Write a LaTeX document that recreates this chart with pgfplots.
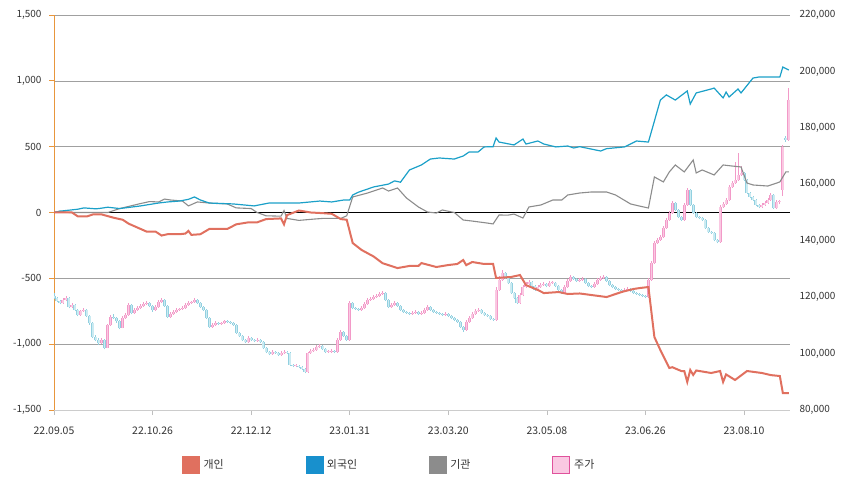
\documentclass[border=0pt]{standalone}
\usepackage{fontspec}
\setmainfont{Noto Sans CJK KR}
\usepackage{pgfplots}
\usepackage{pgfplotstable}
\pgfplotsset{compat=1.18}

\definecolor{cind}{HTML}{E0705F}
\definecolor{cfor}{HTML}{1BA0C8}
\definecolor{cins}{HTML}{8C8C8C}
\definecolor{cup}{HTML}{F29AC8}
\definecolor{cupl}{HTML}{FAC8E2}
\definecolor{cdn}{HTML}{92D0E0}
\definecolor{cdnl}{HTML}{CBEBF2}
\definecolor{cupb}{HTML}{E0529C}
\definecolor{caxis}{HTML}{E8963C}
\definecolor{cgrid}{HTML}{A0A0A0}
\definecolor{ctext}{HTML}{333333}

% daily candles: index, open, high, low, close
\pgfplotstableread{
i o h l c
0 120500 121300 119300 119700
1 119700 120200 118200 118600
2 118600 119000 117400 117900
3 117900 119600 117600 119000
4 119000 120400 118800 119700
5 119700 119900 116000 116500
6 116500 117800 116100 117200
7 117200 117500 115000 115400
8 115400 115800 113200 113700
9 113700 115600 113400 115100
10 115100 116200 114800 115400
11 115400 115700 112900 113300
12 113300 113600 110300 110800
13 110800 111200 105400 105900
14 105900 106500 104300 104800
15 104800 105600 103200 103700
16 103700 105400 103300 104800
17 104800 105200 101500 102000
18 102000 110600 101800 110100
19 110100 113600 109800 113000
20 113000 113900 112200 112600
21 112600 113000 111000 111500
22 111500 111800 108600 109100
23 109100 113200 108900 112600
24 112600 114300 112300 113700
25 113700 117800 113400 117200
26 117200 117600 113900 114400
27 114400 116000 114100 115400
28 115400 116800 115100 116100
29 116100 117400 115800 116900
30 116900 118300 116500 117600
31 117600 118700 117200 117900
32 117900 118200 116400 116900
33 116900 117200 114900 115400
34 115400 117100 115100 116500
35 116500 118900 116200 118300
36 118300 119800 118000 119000
37 119000 119300 116500 116900
38 116900 117200 112600 113000
39 113000 114600 112700 114000
40 114000 115300 113700 114700
41 114700 116000 114400 115400
42 115400 116300 115100 115800
43 115800 116700 115500 116100
44 116100 117800 115800 117200
45 117200 118500 116900 117900
46 117900 118800 117600 118300
47 118300 119700 118000 119000
48 119000 119300 117500 117900
49 117900 118200 116100 116500
50 116500 116800 115000 115400
51 115400 115700 112200 112600
52 112600 112900 109000 109400
53 109400 110700 109100 110100
54 110100 111400 109800 110800
55 110800 111100 110100 110500
56 110500 111300 110200 110800
57 110800 112000 110500 111500
58 111500 111800 110800 111200
59 111200 111500 110400 110800
60 110800 111100 109700 110100
61 110100 110400 106900 107300
62 107300 107600 105800 106200
63 106200 106500 104400 104800
64 104800 105100 103700 104100
65 104100 106100 103800 105500
66 105500 105800 104400 104800
67 104800 105100 104100 104500
68 104500 105400 104200 104800
69 104800 105100 103700 104100
70 104100 104400 101600 102000
71 102000 102300 100200 100600
72 100600 100900 99400 99800
73 99800 101200 99500 100600
74 100600 100900 99800 100200
75 100200 100500 99100 99500
76 99500 100800 99200 100200
77 100200 101200 99900 100600
78 100600 100900 99800 100200
79 100200 100500 95600 96000
80 96000 96300 95200 95600
81 95600 96200 95200 95600
82 95600 95900 94800 95200
83 95200 95500 94100 94500
84 94500 94800 93000 93500
85 93500 100700 93200 100200
86 100200 101500 99900 100900
87 100900 101900 100600 101300
88 101300 102900 101000 102300
89 102300 103300 102000 102700
90 102700 103000 101200 101600
91 101600 101900 100200 100600
92 100600 101200 100300 100600
93 100600 101500 100300 100900
94 100900 101200 100200 100600
95 100600 105400 100300 104800
96 104800 108200 104500 107600
97 107600 107900 105800 106200
98 106200 106500 104400 104800
99 104800 118500 104500 117900
100 117900 118200 115700 116100
101 116100 116600 115400 115800
102 115800 116100 115000 115400
103 115400 116700 115100 116100
104 116100 118200 115800 117600
105 117600 119600 117300 119000
106 119000 119900 118700 119300
107 119300 120600 119000 120000
108 120000 121000 119700 120400
109 120400 121700 120100 121100
110 121100 122200 120800 121500
111 121500 121800 118600 119000
112 119000 119300 116100 116500
113 116500 117800 116200 117200
114 117200 118500 116900 117900
115 117900 118200 116500 116900
116 116900 117200 115000 115400
117 115400 115700 114300 114700
118 114700 115000 114000 114400
119 114400 114700 113600 114000
120 114000 115000 113700 114400
121 114400 115300 114100 114700
122 114700 115000 113600 114000
123 114000 115000 113700 114400
124 114400 116000 114100 115400
125 115400 117100 115100 116500
126 116500 116800 115000 115400
127 115400 115700 114300 114700
128 114700 115000 114000 114400
129 114400 114700 113600 114000
130 114000 114300 113300 113700
131 113700 114600 113400 114000
132 114000 114300 112900 113300
133 113300 113600 112200 112600
134 112600 112900 111500 111900
135 111900 112200 110800 111200
136 111200 111500 109000 109400
137 109400 109700 107600 108400
138 108400 111800 108100 111200
139 111200 113200 110900 112600
140 112600 114600 112300 114000
141 114000 115700 113700 115100
142 115100 116000 114800 115400
143 115400 115700 114000 114400
144 114400 114700 113300 113700
145 113700 114000 112900 113300
146 113300 113600 111900 112300
147 112300 112600 111500 111900
148 111900 123500 111600 122500
149 122500 127500 122200 126100
150 126100 129600 125800 128600
151 128600 128900 126400 126800
152 126800 127100 124600 125000
153 125000 125300 121100 121500
154 121500 121800 119300 119700
155 119700 120000 117500 117900
156 117900 121400 117600 120800
157 120800 124200 120500 123600
158 123600 125300 123300 124700
159 124700 126000 124400 125400
160 125400 125700 123500 123900
161 123900 124200 122100 122500
162 122500 124200 122200 123600
163 123600 124900 123300 124300
164 124300 125300 124000 124700
165 124700 125000 123500 123900
166 123900 125600 123600 125000
167 125000 125800 124600 125000
168 125000 125300 123500 123900
169 123900 124200 122100 122500
170 122500 122800 121100 121500
171 121500 124200 121200 123600
172 123600 126300 123300 125700
173 125700 127700 125400 127100
174 127100 127400 126000 126400
175 126400 126700 125300 125700
176 125700 126700 125400 126100
177 126100 127000 125800 126400
178 126400 126700 124600 125000
179 125000 125300 123500 123900
180 123900 124200 123200 123600
181 123600 125300 123300 124700
182 124700 126700 124400 126100
183 126100 127400 125800 126800
184 126800 127700 126500 127100
185 127100 127400 125300 125700
186 125700 126000 123900 124300
187 124300 124600 123200 123600
188 123600 123900 122500 122900
189 122900 123200 122100 122500
190 122500 122800 121800 122200
191 122200 123100 121900 122500
192 122500 123500 122200 122900
193 122900 123200 121800 122200
194 122200 122500 121100 121500
195 121500 121800 120800 121200
196 121200 121500 120400 120800
197 120800 121100 120000 120400
198 120400 120700 119600 120000
199 120000 126700 119700 126100
200 126100 132700 125800 132100
201 132100 139800 131800 139200
202 139200 140800 138900 140200
203 140200 141900 139900 141300
204 141300 145100 141000 144500
205 144500 147900 144200 147300
206 147300 150400 147000 149800
207 149800 154000 149500 153400
208 153400 153700 150500 150900
209 150900 151200 148000 148400
210 148400 148700 146900 147300
211 147300 153300 147000 152700
212 152700 158600 152400 158000
213 158000 158300 152300 152700
214 152700 153000 149400 149800
215 149800 150100 148000 148400
216 148400 148700 147600 148000
217 148000 148300 146900 147300
218 147300 147600 144100 144500
219 144500 144800 142700 143100
220 143100 143400 142300 142700
221 142700 143000 139800 140200
222 140200 140500 139100 139500
223 139500 152500 139200 151900
224 151900 153600 151600 153000
225 153000 155000 152700 154400
226 154400 159600 154100 159000
227 159000 161100 158700 160500
228 160500 168000 160200 161500
229 161500 171000 161200 163300
230 163300 166500 163000 164000
231 164000 164300 161100 161500
232 161500 161800 156500 156900
233 156900 157200 155100 155500
234 155500 155800 154000 154400
235 154400 154700 152300 152700
236 152700 153000 151500 151900
237 151900 153300 151600 152700
238 152700 154000 152400 153400
239 153400 155000 153100 154400
240 154400 156800 154100 156200
241 156200 156500 151200 151600
242 151600 154300 151300 153700
243 153700 154600 152900 154200
244 158000 173800 156000 173200
245 176400 177000 175000 175700
246 175700 194100 175400 189900
}\candles

% 개인
\pgfplotstableread{
i v
0 0
6 0
8 -30
11 -30
13 -15
16 -15
20 -40
23 -55
25 -85
31 -145
34 -145
36 -175
38 -165
42 -165
44 -160
45 -140
46 -170
49 -165
52 -125
58 -125
61 -90
65 -75
68 -75
71 -50
76 -45
77 -90
78 -20
82 15
86 0
90 -5
93 -10
96 -50
98 -55
100 -232
103 -285
107 -334
110 -385
115 -422
119 -406
122 -406
123 -384
128 -414
132 -399
135 -391
137 -361
138 -400
140 -376
144 -391
147 -391
148 -497
153 -490
156 -475
158 -551
162 -589
164 -612
169 -604
172 -619
176 -615
185 -642
190 -604
194 -581
196 -574
199 -566
201 -946
203 -1045
206 -1181
207 -1175
210 -1204
211 -1204
212 -1287
213 -1196
214 -1234
215 -1200
220 -1219
223 -1204
224 -1287
225 -1230
228 -1272
232 -1204
237 -1219
240 -1235
243 -1242
244 -1371
246 -1371
}\gaein

% 외국인
\pgfplotstableread{
i v
0 0
2 10
8 25
10 35
14 28
15 30
18 40
22 30
29 50
35 72
38 80
42 87
45 100
47 118
49 95
52 72
60 65
67 50
72 72
82 72
89 87
93 80
97 95
99 95
100 133
102 155
107 194
112 216
114 240
116 230
119 323
123 361
126 406
129 414
134 406
137 429
139 460
142 460
144 498
147 500
148 566
149 535
154 513
157 558
158 520
162 543
164 520
168 498
172 505
174 490
176 500
183 467
185 485
191 498
193 520
195 543
199 535
203 854
205 893
208 854
212 923
213 824
215 908
220 938
221 945
224 870
225 915
226 877
229 938
230 908
234 1021
236 1029
239 1029
243 1029
244 1105
246 1082
}\oegugin

% 기관
\pgfplotstableread{
i v
0 0
2 10
5 0
15 0
18 0
22 30
29 68
32 83
35 80
37 102
39 95
43 87
45 50
48 80
53 70
58 65
61 35
66 30
68 0
71 -25
76 -28
77 15
78 -45
82 -60
87 -50
90 -45
96 -45
98 -25
100 118
105 148
110 186
112 163
115 186
118 110
122 42
125 4
128 -4
130 19
134 0
137 -57
140 -65
145 -80
147 -87
149 -19
152 -20
154 -12
157 -42
159 42
163 57
167 95
170 95
172 133
176 148
180 156
185 156
188 133
193 65
196 49
199 34
201 270
204 232
206 308
208 361
211 308
214 399
215 300
217 323
221 285
224 361
227 353
230 346
232 224
234 209
239 201
243 232
245 308
246 308
}\gigwan

\pgfplotsset{
  base/.style={
    at={(54bp,76bp)}, anchor=south west,
    width=736bp, height=395bp, scale only axis,
    xmin=0, xmax=246.4,
  },
  wick/.style={draw=none, mark=none, forget plot,
    error bars/.cd, y dir=plus, y explicit,
    error bar style={draw=#1, line width=0.8bp}},
  body/.style 2 args={draw=none, mark=none, forget plot,
    error bars/.cd, y dir=plus, y explicit,
    error bar style={draw=#1, line width=#2}},
}

\begin{document}
\begin{tikzpicture}[font=\fontsize{10}{12}\selectfont]
\useasboundingbox (0,0) rectangle (851bp,486bp);

% frame: grid, left axis, dates, legend
\begin{axis}[base,
  ymin=-1500, ymax=1500,
  axis lines=left,
  x axis line style={draw=black!20, line width=0.8bp, -},
  y axis line style={draw=caxis, line width=0.8bp, -},
  ytick={-1500,-1000,-500,500,1000,1500},
  extra y ticks={0},
  extra y tick style={grid style={black, line width=0.8bp}},
  ymajorgrids,
  grid style={cgrid, line width=0.6bp},
  tick align=outside,
  major tick length=5bp,
  ytick style={draw=caxis, line width=0.8bp},
  xtick style={draw=black!25, line width=0.6bp},
  xtick={0,33,66,99,132,165,198,231},
  xticklabels={22.09.05,22.10.26,22.12.12,23.01.31,23.03.20,23.05.08,23.06.26,23.08.10},
  xticklabel style={yshift=-8bp, font=\fontsize{10.5}{12}\selectfont},
  yticklabel style={xshift=-4bp},
  every tick label/.append style={text=ctext},
  /pgf/number format/.cd, fixed, precision=0, 1000 sep={,}, assume math mode=true, /pgfplots/.cd,
  scaled y ticks=false,
  legend style={at={(0.1739,-0.1392)}, anchor=west, draw=none, fill=none,
    inner sep=0pt, legend columns=4, font=\fontsize{11}{13}\selectfont,
    text=ctext, /tikz/every even column/.append style={column sep=0pt},
    nodes={inner xsep=4bp, inner ysep=1bp}},
  legend image code/.code={\path[#1] (0bp,-8.5bp) rectangle (17bp,8.5bp);},
]
\addlegendimage{fill=cind, draw=cind}
\addlegendentry{\makebox[98bp][l]{개인}}
\addlegendimage{fill=cfor!90!blue, draw=cfor!90!blue}
\addlegendentry{\makebox[98bp][l]{외국인}}
\addlegendimage{fill=cins, draw=cins}
\addlegendentry{\makebox[98bp][l]{기관}}
\addlegendimage{fill=cupl, draw=cupb, line width=0.8bp}
\addlegendentry{\makebox[98bp][l]{주가}}
\end{axis}

% price axis with candles
\begin{axis}[base,
  ymin=80000, ymax=220000,
  axis x line=none,
  axis y line*=right,
  y axis line style={draw=none},
  ytick={80000,100000,120000,140000,160000,180000,200000,220000},
  major tick length=0pt,
  yticklabel style={xshift=6bp, text=ctext},
  scaled y ticks=false,
  /pgf/number format/.cd, fixed, precision=0, 1000 sep={,}, assume math mode=true, /pgfplots/.cd,
  error bars/error mark=none,
]
% falling candles
\addplot[wick=cdn]
  table[x=i, y expr={\thisrow{c}<\thisrow{o} ? \thisrow{l} : nan},
        y error plus expr={\thisrow{h}-\thisrow{l}}] {\candles};
\addplot[body={cdn}{3bp}]
  table[x=i, y expr={\thisrow{c}<\thisrow{o} ? \thisrow{c} : nan},
        y error plus expr={max(\thisrow{o}-\thisrow{c},350)}] {\candles};
\addplot[body={cdnl}{1.4bp}]
  table[x=i, y expr={\thisrow{c}<\thisrow{o} ? \thisrow{c} : nan},
        y error plus expr={max(\thisrow{o}-\thisrow{c},350)}] {\candles};
% rising candles
\addplot[wick=cup]
  table[x=i, y expr={\thisrow{c}<\thisrow{o} ? nan : \thisrow{l}},
        y error plus expr={\thisrow{h}-\thisrow{l}}] {\candles};
\addplot[body={cup}{3bp}]
  table[x=i, y expr={\thisrow{c}<\thisrow{o} ? nan : \thisrow{o}},
        y error plus expr={max(\thisrow{c}-\thisrow{o},350)}] {\candles};
\addplot[body={cupl}{1.4bp}]
  table[x=i, y expr={\thisrow{c}<\thisrow{o} ? nan : \thisrow{o}},
        y error plus expr={max(\thisrow{c}-\thisrow{o},350)}] {\candles};
\end{axis}

% net buying lines on top
\begin{axis}[base, ymin=-1500, ymax=1500, hide axis]
\addplot[cins, line width=1.1bp, forget plot] table[x=i, y=v] {\gigwan};
\addplot[cfor, line width=1.2bp, forget plot] table[x=i, y=v] {\oegugin};
\addplot[cind, line width=2bp, forget plot] table[x=i, y=v] {\gaein};
\end{axis}
\end{tikzpicture}
\end{document}
